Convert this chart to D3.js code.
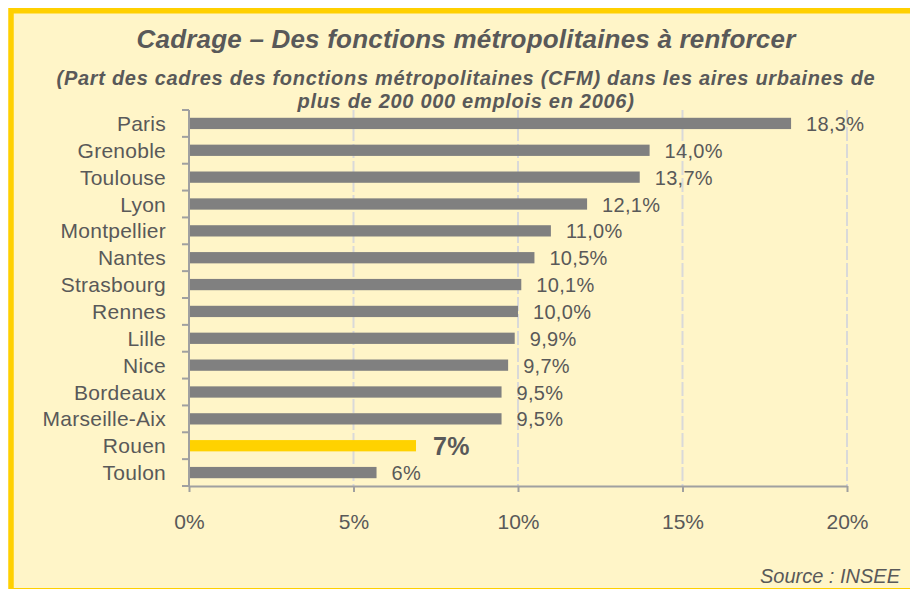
<!DOCTYPE html>
<html>
<head>
<meta charset="utf-8">
<script src="https://cdn.jsdelivr.net/npm/d3@7"></script>
<style>
  body { margin: 0; background: #fff; }
  text { font-family: "Liberation Sans", Arial, sans-serif; }
</style>
</head>
<body>
<div id="chart"></div>
<script>
// Data
const cities = ['Paris','Grenoble','Toulouse','Lyon','Montpellier','Nantes','Strasbourg',
    'Rennes','Lille','Nice','Bordeaux','Marseille-Aix','Rouen','Toulon'];
const shares = [18.3,14.0,13.7,12.1,11.0,10.5,10.1,10.0,9.9,9.7,9.5,9.5,6.9,5.7];
const shareLabels = ['18,3%','14,0%','13,7%','12,1%','11,0%','10,5%','10,1%',
    '10,0%','9,9%','9,7%','9,5%','9,5%','7%','6%'];
const xTicks = [0,5,10,15,20];
const highlight = 'Rouen';

const width = 910, height = 589;
const grey = '#595959';

const svg = d3.select('#chart').append('svg')
    .attr('width', width).attr('height', height);

// Panel with yellow border
svg.append('rect')
    .attr('x', 11).attr('y', 10.75)
    .attr('width', 905).attr('height', 580)
    .attr('fill', '#fff5c8')
    .attr('stroke', '#ffd000').attr('stroke-width', 5.5);

// Titles
svg.append('text')
    .attr('x', 466).attr('y', 48)
    .attr('text-anchor', 'middle')
    .attr('font-size', 26).attr('font-weight', 'bold').attr('font-style', 'italic')
    .attr('letter-spacing', 0.2)
    .attr('fill', grey)
    .text('Cadrage – Des fonctions métropolitaines à renforcer');

const sub = svg.append('text')
    .attr('text-anchor', 'middle')
    .attr('font-size', 20).attr('font-weight', 'bold').attr('font-style', 'italic')
    .attr('letter-spacing', 0.7)
    .attr('fill', grey);
sub.append('tspan').attr('x', 466).attr('y', 85)
    .text('(Part des cadres des fonctions métropolitaines (CFM) dans les aires urbaines de');
sub.append('tspan').attr('x', 466).attr('y', 108)
    .text('plus de 200 000 emplois en 2006)');

// Scales
const x = d3.scaleLinear().domain([0, 20]).range([189, 847]);
const y = d3.scaleBand().domain(cities).range([110, 486])
    .paddingInner(0.58).paddingOuter(0.29);

// Gridlines
svg.append('g').selectAll('line')
    .data(xTicks.slice(1))
    .join('line')
    .attr('x1', d => x(d)).attr('x2', d => x(d))
    .attr('y1', 110).attr('y2', 486)
    .attr('stroke', '#d9d9d9').attr('stroke-width', 2)
    .attr('stroke-dasharray', '14,3');

// Bars
svg.append('g').selectAll('rect')
    .data(cities)
    .join('rect')
    .attr('x', x(0))
    .attr('y', d => y(d))
    .attr('width', (d, i) => x(shares[i]) - x(0))
    .attr('height', y.bandwidth())
    .attr('fill', d => d === highlight ? '#ffd200' : '#808080');

// Value labels
svg.append('g').selectAll('text')
    .data(cities)
    .join('text')
    .attr('x', (d, i) => x(shares[i]) + (d === highlight ? 17 : 15))
    .attr('y', d => y(d) + y.bandwidth() / 2)
    .attr('dy', '0.38em')
    .attr('font-size', d => d === highlight ? 25 : 20)
    .attr('font-weight', d => d === highlight ? 'bold' : 'normal')
    .attr('letter-spacing', 0.3)
    .attr('fill', grey)
    .text((d, i) => shareLabels[i]);

// Y axis: line, boundary ticks and category labels
const yAxis = svg.append('g').attr('transform', `translate(${x(0)},0)`);
yAxis.append('line')
    .attr('x1', 0).attr('x2', 0).attr('y1', 110).attr('y2', 486)
    .attr('stroke', '#a0a0a0').attr('stroke-width', 2);
yAxis.selectAll('line.tick')
    .data(d3.range(cities.length + 1))
    .join('line')
    .classed('tick', true)
    .attr('x1', -7).attr('x2', 0)
    .attr('y1', i => 110 + i * y.step()).attr('y2', i => 110 + i * y.step())
    .attr('stroke', '#a0a0a0').attr('stroke-width', 2);
yAxis.selectAll('text')
    .data(cities)
    .join('text')
    .attr('x', -23)
    .attr('y', d => y(d) + y.bandwidth() / 2)
    .attr('dy', '0.36em')
    .attr('text-anchor', 'end')
    .attr('font-size', 21)
    .attr('letter-spacing', 0.25)
    .attr('fill', grey)
    .text(d => d);

// X axis
const xAxis = svg.append('g')
    .attr('transform', 'translate(0,486)')
    .call(d3.axisBottom(x).tickValues(xTicks).tickFormat(d => d + '%')
        .tickSize(6).tickPadding(22).tickSizeOuter(0));
xAxis.select('.domain').attr('stroke', '#a0a0a0').attr('stroke-width', 2);
xAxis.selectAll('.tick line').attr('stroke', '#a0a0a0').attr('stroke-width', 2);
xAxis.selectAll('.tick text')
    .attr('font-size', 21).attr('fill', grey)
    .attr('font-family', '"Liberation Sans", Arial, sans-serif');

// Source
svg.append('text')
    .attr('x', 900).attr('y', 583)
    .attr('text-anchor', 'end')
    .attr('font-size', 20).attr('font-style', 'italic')
    .attr('fill', grey)
    .text('Source : INSEE');
</script>
</body>
</html>
